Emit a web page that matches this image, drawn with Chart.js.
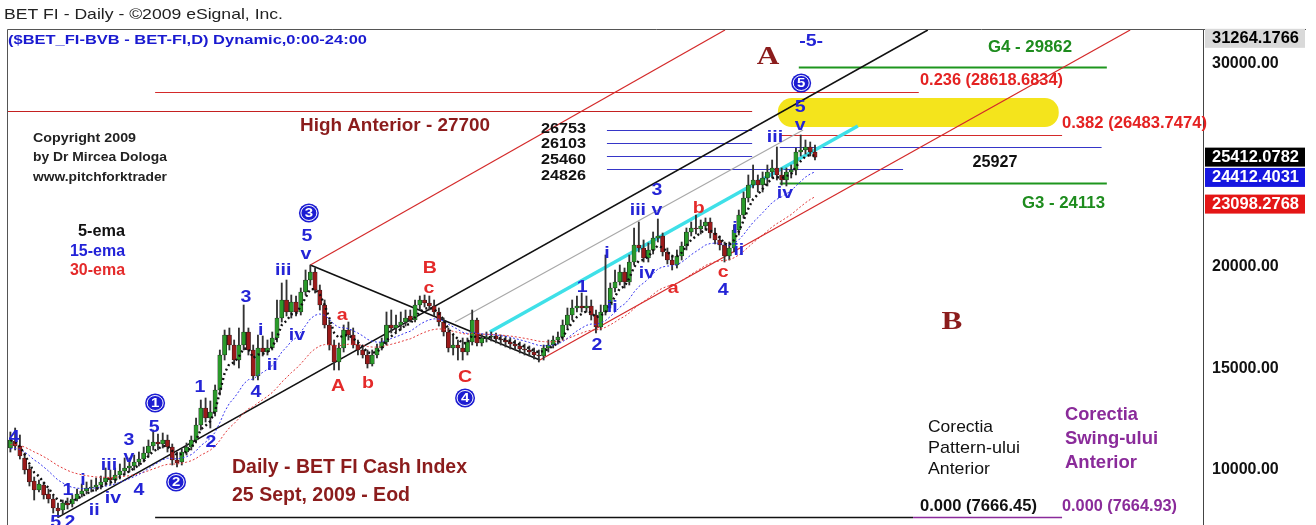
<!DOCTYPE html>
<html>
<head>
<meta charset="utf-8">
<script src="https://cdn.jsdelivr.net/npm/chart.js@4.4.1/dist/chart.umd.min.js"></script>
<style>
  html, body { margin: 0; padding: 0; background: #fff; }
  #wrap { width: 1316px; height: 525px; position: relative; }
</style>
</head>
<body>
<div id="wrap"><canvas id="c"></canvas></div>
<script>
// BET FI daily candles, Feb - 25 Sept 2009
const opens = [
  11083,11429,11182,10591,10049,9458,9015,9261,8818,8571,
  8128,8030,8374,8325,8571,8818,8965,9113,9162,9261,
  9408,9606,9507,9754,9951,10099,10197,10394,10542,10837,
  11182,11379,11281,11478,11133,10492,10394,10886,11133,11478,
  12217,13054,12561,12857,13941,15665,16650,16157,15418,16157,
  16798,15911,14630,16010,15813,16010,16502,17487,18374,17783,
  18276,17783,18768,19359,19753,18867,18128,17143,16157,15320,
  16010,16896,16650,16157,15911,15665,15221,15665,16010,16305,
  17143,16995,17143,17290,17586,17389,18128,18374,18226,18078,
  17783,17290,16798,16010,16157,16010,15813,16305,17389,16256,
  16502,16551,16601,16453,16404,16305,16207,16108,15961,15911,
  15813,15665,15616,16010,16157,16404,16551,17143,17635,17980,
  18078,17980,18078,17635,17044,17783,18128,18965,19261,19753,
  19261,20246,21083,20935,20443,20837,21428,21527,20739,20344,
  20098,20542,21034,21724,21921,21872,22019,22216,21674,21330,
  21083,20542,20935,21822,22561,23398,24039,24285,24039,24384,
  24680,24877,24532,24285,24680,24778,25665,25763,25911,25665
];
const highs = [
  11872,12069,11724,10837,10246,9655,9507,9408,9064,8719,
  8374,8522,8620,8768,9064,9310,9408,9507,9606,9704,
  10099,10000,10099,10296,10591,10591,10739,10887,11133,11478,
  11970,11773,11823,11724,11281,10886,11034,11330,11675,12561,
  13448,13547,13399,14187,15911,16896,16995,16404,16995,18128,
  16995,16157,16650,16601,16404,16798,18374,19212,19359,18620,
  18571,18965,19852,20098,19950,19113,18374,17389,16404,16256,
  17143,17290,16995,16404,16157,15911,15911,16207,16502,17783,
  17881,17635,17783,17881,17881,18374,18571,18620,18571,18374,
  17980,17487,16995,16650,16404,16502,16502,17881,17487,16699,
  16798,16798,16748,16650,16601,16502,16404,16305,16207,16108,
  16010,15911,16157,16404,16601,16798,17389,17980,18374,18571,
  18719,18571,18374,17881,18128,20591,19212,19852,20098,19950,
  20591,21921,22216,21330,21182,21724,22364,21674,20935,20591,
  20837,21231,21921,22216,22561,22315,22414,22414,21921,21527,
  21231,21231,22069,22807,23694,24532,25024,24532,24680,25024,
  25270,25911,24877,24877,25024,25862,26502,26256,26157,26010
];
const lows = [
  10886,10985,10541,9803,9212,8522,8916,8571,8374,7881,
  7666,7832,8079,8177,8473,8670,8818,8916,8965,9064,
  9212,9261,9359,9557,9754,9901,10000,10197,10394,10640,
  10985,10985,11083,10886,10246,10148,10246,10739,10985,11330,
  11970,12364,12069,12660,13694,15418,15911,15172,15024,15911,
  15665,14433,14433,15616,15665,15911,16305,17290,17586,17487,
  17586,17635,18620,19113,18719,17881,16995,15911,14926,14926,
  15813,16404,16010,15665,15517,15024,15122,15517,15911,16157,
  16748,16798,16896,17093,17290,17290,17881,18029,17881,17586,
  17093,16601,15813,15665,15418,15418,15665,16157,16108,16108,
  16305,16355,16256,16157,16059,15961,15911,15763,15665,15616,
  15468,15320,15418,15813,16010,16207,16404,16995,17389,17783,
  17783,17783,17389,16748,16896,17635,17980,18768,19113,18965,
  19113,20098,20739,20246,20246,20640,21231,20542,20148,19852,
  19950,20344,20837,21527,21625,21625,21822,21428,21133,20837,
  20246,20344,20739,21576,22414,23201,23891,23694,23694,23990,
  24384,24285,24039,23990,24384,24532,25468,25566,25468,25270
];
const closes = [
  11478,11182,10690,10000,9408,9015,9310,8768,8571,8128,
  7980,8374,8276,8571,8818,8965,9113,9162,9261,9408,
  9606,9507,9754,9951,10099,10197,10394,10542,10837,11182,
  11379,11281,11478,11133,10492,10345,10886,11133,11478,12217,
  13054,12561,12857,13941,15665,16650,16157,15418,16157,16798,
  15911,14630,16010,15813,16010,16502,17487,18374,17783,18276,
  17783,18768,19359,19753,18867,18128,17143,16157,15320,16010,
  16896,16650,16157,15911,15665,15221,15665,16010,16305,17143,
  16995,17143,17290,17487,17389,18128,18374,18226,18078,17783,
  17290,16798,16010,16157,16010,15813,16305,17389,16256,16502,
  16551,16601,16453,16404,16305,16207,16108,15961,15911,15813,
  15665,15616,16010,16157,16404,16551,17143,17635,17980,18078,
  17980,18078,17635,17044,17783,18128,18965,19261,19753,19261,
  20246,21083,20935,20443,20837,21428,21527,20739,20344,20098,
  20542,21034,21724,21921,21872,22019,22216,21674,21330,21083,
  20542,20935,21822,22561,23398,24039,24285,24039,24384,24680,
  24877,24532,24285,24680,24778,25665,25763,25911,25665,25412
];

// starting EMA values read at the left edge of the picture
const ema15Start = 10985;
const ema30Start = 11231;

// y axis
const yMin = 7291;
const yMax = 31674;
const tickValues = [10000, 15000, 20000, 30000];
const priceTags = [31264.1766, 25412.0782, 24412.4031, 23098.2768];
const tagColors = ['#d9d9d9', '#000000', '#1616e0', '#e41616'];
const tagText = ['#000', '#fff', '#fff', '#fff'];

const SLOTS = 251;   // daily slots incl. empty future area
const labels = Array.from({ length: SLOTS }, (_, i) => String(i));

function ema(arr, n, start) {
  const k = 2 / (n + 1);
  let e = start;
  return arr.map(v => (e = e + k * (v - e)));
}
const ema5 = ema(closes, 5, closes[0]);
const ema15 = ema(closes, 15, ema15Start);
const ema30 = ema(closes, 30, ema30Start);

// pitchfork and trend lines (bar index, price)
const trendLines = [
  { p: [10, 7666, 192.7, 31674], c: '#111', w: 1.6 },
  { p: [63, 20098, 111.2, 15420], c: '#111', w: 1.6 },
  { p: [63, 20098, 150.1, 31674], c: '#d42a2a', w: 1.2 },
  { p: [111.2, 15420, 235.2, 31674], c: '#d42a2a', w: 1.2 },
  { p: [93.4, 17290, 166.5, 26748], c: '#a8a8a8', w: 1.2 },
  { p: [100.7, 16798, 178, 26945], c: '#3fe0e8', w: 3.5 }
];

// horizontal levels
const levels = [
  { v: 27700, x1: -0.5, x2: 155.8, c: '#c42020', w: 1.2 },
  { v: 28618.6834, x1: 30.4, x2: 190.8, c: '#d42a2a', w: 1.2 },
  { v: 26483.7474, x1: 161.6, x2: 220.9, c: '#d42a2a', w: 1.2 },
  { v: 29862, x1: 165.6, x2: 230.3, c: '#1e961e', w: 2 },
  { v: 24113, x1: 161.6, x2: 230.3, c: '#1e961e', w: 2 },
  { v: 26753, x1: 125.3, x2: 155.8, c: '#3636c8', w: 1.2 },
  { v: 26103, x1: 125.3, x2: 155.8, c: '#3636c8', w: 1.2 },
  { v: 25460, x1: 125.3, x2: 155.8, c: '#3636c8', w: 1.2 },
  { v: 24826, x1: 125.3, x2: 187.5, c: '#3636c8', w: 1.2 },
  { v: 25927, x1: 161.6, x2: 229.2, c: '#3636c8', w: 1.2 },
  { v: 7666.45, x1: 30.4, x2: 189.6, c: '#111', w: 1.4 },
  { v: 7664.93, x1: 189.6, x2: 220.9, c: '#8a2b9a', w: 1.4 }
];
const targetZone = { x1: 161.2, x2: 220.2, top: 28325, bottom: 26896 };

// wave counts [text, bar index, price]
const blueWaves = [
  ['4', 0.8, 11625], ['5', 9.5, 7440], ['2', 12.5, 7440], ['1', 12.1, 9015],
  ['i', 15.25, 9507], ['ii', 17.6, 8030], ['iii', 20.7, 10246], ['iv', 21.55, 8620],
  ['3', 24.9, 11478], ['v', 24.9, 10640], ['4', 27, 9015], ['5', 30.2, 12118],
  ['1', 39.8, 14089], ['2', 42.1, 11379], ['3', 49.5, 18522], ['4', 51.6, 13842],
  ['i', 52.6, 16896], ['ii', 55, 15172], ['iii', 57.3, 19852], ['iv', 60.2, 16650],
  ['5', 62.3, 21527], ['v', 62.1, 20640], ['1', 120.1, 19015], ['2', 123.2, 16157],
  ['i', 125.3, 20690], ['ii', 126.4, 18000], ['iii', 131.8, 22807], ['iv', 133.7, 19704],
  ['3', 135.8, 23793], ['v', 135.8, 22807], ['4', 149.7, 18867], ['i', 152.2, 21921],
  ['ii', 153, 20837], ['iii', 160.6, 26403], ['iv', 162.7, 23645], ['5', 165.9, 27881],
  ['v', 165.9, 26995], ['-5-', 168.2, 31132]
];
const redWaves = [
  ['a', 69.7, 17635], ['A', 68.8, 14138], ['b', 75.1, 14286], ['B', 88.1, 19950],
  ['c', 87.9, 18965], ['C', 95.5, 14581], ['a', 139.2, 18965], ['b', 144.6, 22906],
  ['c', 149.7, 19754]
];
const circledWaves = [['1', 30.4, 13300], ['2', 34.8, 9408], ['3', 62.7, 22660], ['4', 95.5, 13547], ['5', 166.1, 29064]];

const SANS = '"Liberation Sans", Arial, sans-serif';
const SERIF = '"Liberation Serif", "Times New Roman", serif';

function txt(ctx, s, x, y, o) {
  ctx.save();
  ctx.font = (o.weight || 'bold') + ' ' + o.size + 'px ' + (o.family || SANS);
  const m = ctx.measureText(s).width;
  const sx = o.w ? o.w / m : (o.sx || 1);
  const W = m * sx;
  const left = o.align === 'center' ? x - W / 2 : o.align === 'right' ? x - W : x;
  ctx.translate(left, y);
  ctx.scale(sx, 1);
  ctx.fillStyle = o.color;
  ctx.textBaseline = 'middle';
  ctx.textAlign = 'left';
  ctx.fillText(s, 0, 0);
  ctx.restore();
}

const overlay = {
  id: 'overlay',
  beforeDatasetsDraw(chart) {
    const { ctx, chartArea: a, scales: { x, y } } = chart;
    ctx.save();
    ctx.beginPath();
    ctx.rect(a.left, a.top, a.right - a.left, a.bottom - a.top);
    ctx.clip();

    const z = targetZone;
    const zx1 = x.getPixelForValue(z.x1), zx2 = x.getPixelForValue(z.x2);
    const zy1 = y.getPixelForValue(z.top), zy2 = y.getPixelForValue(z.bottom);
    ctx.fillStyle = '#f4e41c';
    ctx.beginPath();
    ctx.roundRect(zx1, zy1, zx2 - zx1, zy2 - zy1, 14);
    ctx.fill();

    levels.forEach(l => {
      const py = Math.round(y.getPixelForValue(l.v)) + 0.5;
      ctx.strokeStyle = l.c;
      ctx.lineWidth = l.w;
      ctx.beginPath();
      ctx.moveTo(x.getPixelForValue(l.x1), py);
      ctx.lineTo(x.getPixelForValue(l.x2), py);
      ctx.stroke();
    });
    trendLines.forEach(t => {
      ctx.strokeStyle = t.c;
      ctx.lineWidth = t.w;
      ctx.beginPath();
      ctx.moveTo(x.getPixelForValue(t.p[0]), y.getPixelForValue(t.p[1]));
      ctx.lineTo(x.getPixelForValue(t.p[2]), y.getPixelForValue(t.p[3]));
      ctx.stroke();
    });
    ctx.restore();
  },
  afterDatasetsDraw(chart) {
    const { ctx, scales: { x, y } } = chart;
    const P = (i, v) => [x.getPixelForValue(i), y.getPixelForValue(v)];

    blueWaves.forEach(([s, i, v]) => {
      const [px, py] = P(i, v);
      txt(ctx, s, px, py, { size: 17, color: '#2424d6', align: 'center', sx: 1.15 });
    });
    redWaves.forEach(([s, i, v]) => {
      const [px, py] = P(i, v);
      txt(ctx, s, px, py, { size: 17, color: '#e42a2a', align: 'center', sx: 1.15 });
    });
    circledWaves.forEach(([s, i, v]) => {
      const [px, py] = P(i, v);
      ctx.save();
      ctx.fillStyle = '#1c1cd2';
      ctx.beginPath();
      ctx.ellipse(px, py, 10, 9.5, 0, 0, Math.PI * 2);
      ctx.fill();
      ctx.strokeStyle = '#fff';
      ctx.lineWidth = 1;
      ctx.beginPath();
      ctx.ellipse(px, py, 8, 7.5, 0, 0, Math.PI * 2);
      ctx.stroke();
      ctx.restore();
      txt(ctx, s, px, py + 0.5, { size: 13, color: '#fff', align: 'center', sx: 1.15 });
    });

    // level captions
    txt(ctx, 'High Anterior - 27700', 300, 126, { size: 18, color: '#8b1c1c', w: 190 });
    ['26753', '26103', '25460', '24826'].forEach((s, k) => {
      txt(ctx, s, 541, [129, 144, 160, 176][k], { size: 15, color: '#111', w: 45 });
    });
    txt(ctx, 'G4 - 29862', 988, 47, { size: 17, color: '#1e8c1e', w: 84 });
    txt(ctx, '0.236 (28618.6834)', 920, 81, { size: 16, color: '#e42222', w: 143 });
    txt(ctx, '0.382 (26483.7474)', 1062, 124, { size: 16, color: '#e42222', w: 145 });
    txt(ctx, '25927', 995, 163, { size: 16, color: '#111', align: 'center', w: 45 });
    txt(ctx, 'G3 - 24113', 1022, 203, { size: 17, color: '#1e8c1e', w: 83 });
    txt(ctx, 'A', 768, 57, { size: 26, family: SERIF, color: '#8b1c1c', align: 'center', sx: 1.2 });
    txt(ctx, 'B', 952, 322, { size: 26, family: SERIF, color: '#8b1c1c', align: 'center', sx: 1.2 });

    // notes
    txt(ctx, 'Copyright 2009', 33, 138, { size: 13, color: '#222', w: 103 });
    txt(ctx, 'by Dr Mircea Dologa', 33, 157, { size: 13, color: '#222', w: 134 });
    txt(ctx, 'www.pitchforktrader', 33, 177, { size: 13, color: '#222', w: 134 });
    txt(ctx, '5-ema', 125, 232, { size: 16, color: '#111', align: 'right', w: 47 });
    txt(ctx, '15-ema', 125, 252, { size: 16, color: '#2222d8', align: 'right', w: 55 });
    txt(ctx, '30-ema', 125, 271, { size: 16, color: '#e42a2a', align: 'right', w: 55 });
    txt(ctx, 'Daily - BET FI Cash Index', 232, 467, { size: 20, color: '#8b1c1c', w: 235 });
    txt(ctx, '25 Sept, 2009 - Eod', 232, 495, { size: 20, color: '#8b1c1c', w: 178 });
    txt(ctx, 'Corectia', 928, 427, { size: 17, weight: 'normal', color: '#111', w: 65 });
    txt(ctx, 'Pattern-ului', 928, 448, { size: 17, weight: 'normal', color: '#111', w: 92 });
    txt(ctx, 'Anterior', 928, 469, { size: 17, weight: 'normal', color: '#111', w: 62 });
    txt(ctx, 'Corectia', 1065, 415, { size: 19, color: '#8a2b9a', w: 73 });
    txt(ctx, 'Swing-ului', 1065, 439, { size: 19, color: '#8a2b9a', w: 93 });
    txt(ctx, 'Anterior', 1065, 463, { size: 19, color: '#8a2b9a', w: 72 });
    txt(ctx, '0.000 (7666.45)', 920, 507, { size: 16, color: '#111', w: 117 });
    txt(ctx, '0.000 (7664.93)', 1062, 507, { size: 16, color: '#8a2b9a', w: 115 });
  },
  afterDraw(chart) {
    const { ctx, chartArea: a, scales: { y } } = chart;
    ctx.save();
    ctx.strokeStyle = '#555';
    ctx.lineWidth = 1;
    ctx.beginPath();
    ctx.moveTo(a.left - 0.5, 525);
    ctx.lineTo(a.left - 0.5, a.top - 0.5);
    ctx.lineTo(1306, a.top - 0.5);
    ctx.stroke();

    priceTags.forEach((v, k) => {
      const py = y.getPixelForValue(v);
      ctx.fillStyle = tagColors[k];
      ctx.fillRect(a.right + 2, py - 9.5, 100, 19);
      txt(ctx, v.toFixed(4), a.right + 9, py + 0.5, { size: 16, color: tagText[k], w: 87 });
    });
    ctx.restore();

    txt(ctx, 'BET FI - Daily - \u00a92009 eSignal, Inc.', 4, 15, { size: 15, weight: 'normal', color: '#222', w: 279 });
    txt(ctx, '($BET_FI-BVB - BET-FI,D) Dynamic,0:00-24:00', 8, 40, { size: 13.5, color: '#1a1ad0', w: 359 });
  }
};

new Chart(document.getElementById('c'), {
  type: 'bar',
  data: {
    labels: labels,
    datasets: [
      { type: 'line', label: '5-ema', data: ema5, borderColor: '#111', borderWidth: 2.4, borderDash: [2, 3],
        pointRadius: 0, fill: false, order: 1 },
      { type: 'line', label: '15-ema', data: ema15, borderColor: '#3434f0', borderWidth: 1, borderDash: [2, 2],
        pointRadius: 0, fill: false, order: 2 },
      { type: 'line', label: '30-ema', data: ema30, borderColor: '#e23a3a', borderWidth: 1, borderDash: [2, 2],
        pointRadius: 0, fill: false, order: 3 },
      { label: 'body', data: opens.map((o, i) => [o, closes[i]]),
        backgroundColor: opens.map((o, i) => closes[i] >= o ? '#2a9a2a' : '#9a1a1a'),
        borderColor: '#1a1a1a', borderWidth: 0.6, borderSkipped: false,
        barThickness: 4.2, grouped: false, order: 4 },
      { label: 'wick', data: lows.map((l, i) => [l, highs[i]]), backgroundColor: '#333',
        barThickness: 1.2, grouped: false, order: 5 }
    ]
  },
  options: {
    responsive: true,
    maintainAspectRatio: false,
    animation: false,
    events: [],
    layout: { autoPadding: false, padding: { top: 30, left: 8, right: 0, bottom: 0 } },
    plugins: { legend: { display: false }, tooltip: { enabled: false }, title: { display: false } },
    scales: {
      x: { type: 'category', display: false, offset: true, grid: { display: false } },
      y: {
        position: 'right',
        min: yMin,
        max: yMax,
        grid: { display: false, drawTicks: false },
        border: { display: true, color: '#444', width: 1 },
        ticks: {
          color: '#111',
          padding: 9,
          font: { family: SANS, size: 16, weight: 'bold' },
          callback: v => Number(v).toFixed(2)
        },
        afterBuildTicks: s => { s.ticks = tickValues.map(v => ({ value: v })); },
        afterFit: s => { s.width = 113; s.paddingTop = 0; s.paddingBottom = 0; }
      }
    }
  },
  plugins: [overlay]
});
</script>
</body>
</html>
